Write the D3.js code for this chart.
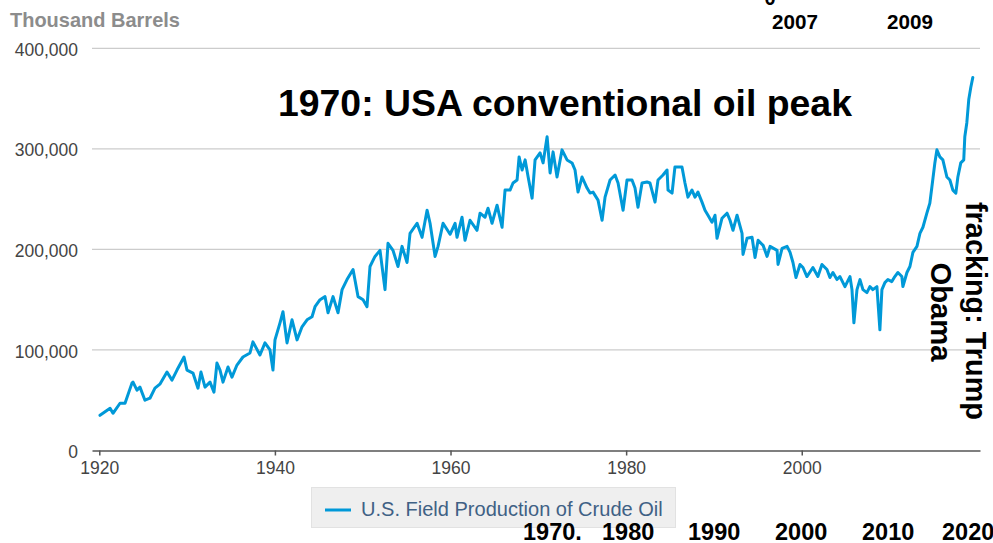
<!DOCTYPE html>
<html><head><meta charset="utf-8">
<script src="https://cdn.jsdelivr.net/npm/d3@7"></script>
<style>html,body{margin:0;padding:0;background:#fff;overflow:hidden}svg{display:block}</style>
</head><body>
<script>
// ---- data (thousand barrels per month, U.S. field production of crude oil) ----
const years = [1920.08,1921.23,1921.56,1922.36,1922.93,1923.72,1923.84,1924.29,1924.63,1925.2,1925.77,1926.34,1926.9,1927.71,1928.28,1928.85,1929.65,1929.99,1930.67,1931.24,1931.58,1932.04,1932.61,1933.06,1933.4,1933.75,1934.09,1934.66,1935.11,1935.68,1936.36,1937.16,1937.5,1938.3,1938.87,1939.44,1939.78,1940.01,1940.58,1940.92,1941.38,1941.95,1942.52,1943.09,1943.66,1944.23,1944.57,1945.14,1945.71,1946.05,1946.62,1947.19,1947.65,1948.21,1948.9,1949.47,1950.04,1950.49,1950.83,1951.4,1951.97,1952.54,1952.88,1953.45,1954.02,1954.48,1955.05,1955.39,1956.19,1956.76,1957.33,1957.67,1958.24,1958.58,1959.15,1959.95,1960.52,1960.74,1961.31,1961.65,1962.22,1963.02,1963.36,1963.93,1964.27,1964.73,1965.3,1965.87,1966.21,1966.78,1967.12,1967.58,1967.81,1968.15,1968.5,1968.84,1969.29,1969.63,1970.2,1970.54,1971.0,1971.34,1971.68,1972.13,1972.7,1973.27,1973.84,1974.18,1974.52,1974.98,1975.55,1975.89,1976.23,1976.8,1977.26,1977.6,1978.17,1978.74,1979.08,1979.65,1980.1,1980.67,1981.01,1981.35,1981.81,1982.38,1982.72,1983.29,1983.63,1984.2,1984.66,1984.77,1985.23,1985.56,1985.9,1986.36,1986.7,1987.04,1987.5,1987.84,1988.18,1988.64,1988.98,1989.32,1989.78,1990.12,1990.35,1990.92,1991.49,1991.83,1992.17,1992.63,1993.2,1993.31,1993.77,1994.34,1994.68,1995.03,1995.6,1996.05,1996.39,1997.19,1997.3,1997.76,1998.33,1998.67,1999.0,1999.34,1999.8,2000.14,2000.59,2001.27,2001.84,2002.3,2002.87,2003.21,2003.55,2004.01,2004.35,2004.92,2005.49,2005.72,2005.94,2006.29,2006.63,2006.97,2007.42,2007.76,2008.1,2008.56,2008.9,2009.13,2009.47,2009.81,2010.26,2010.6,2010.95,2011.4,2011.52,2011.98,2012.32,2012.66,2013.12,2013.46,2013.8,2014.25,2014.59,2014.82,2015.16,2015.39,2015.73,2016.07,2016.53,2016.87,2017.21,2017.55,2017.78,2018.11,2018.45,2018.57,2018.8,2019.02,2019.25,2019.48];
const production = [35000,42000,37000,47000,47000,67000,68000,60000,63000,50000,52000,62000,66000,78000,70000,80000,93000,80000,77000,62000,78000,63000,68000,58000,87000,80000,68000,83000,73000,85000,93000,97000,108000,95000,107000,100000,80000,110000,127000,138000,107000,130000,110000,123000,130000,133000,143000,150000,153000,137000,153000,137000,160000,170000,180000,153000,150000,143000,183000,193000,199000,160000,206000,199000,183000,203000,187000,216000,226000,212000,239000,226000,193000,203000,226000,215000,226000,212000,232000,209000,229000,219000,236000,232000,241000,226000,244000,222000,259000,259000,266000,269000,292000,279000,289000,272000,251000,289000,296000,286000,312000,276000,297000,272000,299000,289000,286000,279000,257000,272000,261000,256000,257000,249000,229000,252000,269000,274000,266000,239000,269000,269000,261000,242000,266000,267000,266000,247000,269000,274000,279000,259000,256000,282000,282000,282000,266000,252000,259000,252000,257000,247000,239000,234000,227000,234000,211000,231000,236000,229000,219000,234000,216000,195000,211000,212000,192000,209000,204000,193000,203000,199000,185000,201000,203000,197000,187000,172000,185000,182000,173000,182000,173000,185000,180000,172000,177000,170000,173000,163000,173000,160000,127000,160000,170000,160000,157000,163000,160000,163000,120000,160000,167000,170000,168000,173000,177000,173000,163000,177000,183000,197000,203000,216000,222000,236000,246000,262000,286000,299000,292000,289000,272000,269000,259000,256000,272000,286000,289000,312000,326000,349000,361000,371000];
const yTicks = [0, 100000, 200000, 300000, 400000];
const xTicks = [1920, 1940, 1960, 1980, 2000];
const seriesName = "U.S. Field Production of Crude Oil";
const unitLabel = "Thousand Barrels";
const headline = "1970: USA conventional oil peak";
const topYears = ["2007", "2009"];
const bottomYears = ["1970.", "1980", "1990", "2000", "2010", "2020"];
const sideNotes = ["fracking: Trump", "Obama"];

// ---- layout ----
const W = 993, H = 543;
const FONT = "'Liberation Sans', Arial, Helvetica, sans-serif";
const svg = d3.select("body").append("svg").attr("width", W).attr("height", H);

const x = d3.scaleLinear().domain([1919.17, 2020.3]).range([92, 980]);
const y = d3.scaleLinear().domain([0, 400000]).range([450.5, 48.3]);

function fit(sel, target) {
  const w = sel.node().getComputedTextLength();
  const fs = parseFloat(sel.attr("font-size"));
  sel.attr("font-size", (fs * target / w).toFixed(2));
  return sel;
}

// gridlines + y labels
const gy = svg.append("g");
gy.selectAll("line").data(yTicks.filter(d => d > 0)).join("line")
  .attr("x1", x.range()[0]).attr("x2", x.range()[1])
  .attr("y1", d => y(d)).attr("y2", d => y(d))
  .attr("stroke", "#cccccc").attr("stroke-width", 1.2);
gy.selectAll("text").data(yTicks).join("text")
  .attr("x", 78).attr("y", d => y(d) + 1.5).attr("dy", "0.35em")
  .attr("text-anchor", "end").attr("font-family", FONT).attr("font-size", 17.5)
  .attr("fill", "#444").text(d => d3.format(",")(d));

// x axis
const xAxis = d3.axisBottom(x).tickValues(xTicks).tickFormat(d3.format("d")).tickSize(5).tickSizeOuter(0);
const gx = svg.append("g").attr("transform", `translate(0,${y(0)})`).call(xAxis);
gx.select(".domain").attr("stroke", "#555").attr("stroke-width", 1.5);
gx.selectAll(".tick line").attr("stroke", "#555").attr("stroke-width", 1.5);
gx.selectAll(".tick text").attr("font-family", FONT).attr("font-size", 17.5).attr("fill", "#444").attr("dy", "0.9em");

// series line
const pts = years.map((yr, i) => [yr, production[i]]);
svg.append("path").datum(pts)
  .attr("fill", "none").attr("stroke", "#0099d8").attr("stroke-width", 3)
  .attr("stroke-linejoin", "round").attr("stroke-linecap", "round")
  .attr("d", d3.line().x(d => x(d[0])).y(d => y(d[1])));

// unit label
fit(svg.append("text").attr("x", 10).attr("y", 27).attr("font-family", FONT)
  .attr("font-weight", "bold").attr("font-size", 20).attr("fill", "#8c8c8c").text(unitLabel), 170);

// legend
const lg = svg.append("g");
lg.append("rect").attr("x", 311.5).attr("y", 487.5).attr("width", 364).attr("height", 40)
  .attr("fill", "#efefef").attr("stroke", "#e2e2e2");
lg.append("line").attr("x1", 325).attr("x2", 351).attr("y1", 510).attr("y2", 510)
  .attr("stroke", "#0099d8").attr("stroke-width", 3);
fit(lg.append("text").attr("x", 361).attr("y", 516).attr("font-family", FONT)
  .attr("font-size", 17).attr("fill", "#3f6185").text(seriesName), 302);

// headline annotation
fit(svg.append("text").attr("x", 278).attr("y", 116).attr("font-family", FONT)
  .attr("font-weight", "bold").attr("font-size", 36).attr("fill", "#000").text(headline), 574);

// top stray labels
svg.append("text").attr("x", 770).attr("y", 5).attr("text-anchor", "middle").attr("font-family", FONT)
  .attr("font-weight", "bold").attr("font-size", 20).attr("fill", "#000").text("0");
[772, 887].forEach((px, i) => {
  fit(svg.append("text").attr("x", px).attr("y", 29).attr("font-family", FONT)
    .attr("font-weight", "bold").attr("font-size", 20).attr("fill", "#000").text(topYears[i]), 46);
});

// bottom stray labels
[523, 602, 688, 775, 862, 942].forEach((px, i) => {
  svg.append("text").attr("x", px).attr("y", 540).attr("font-family", FONT)
    .attr("font-weight", "bold").attr("font-size", 23.5).attr("fill", "#000").text(bottomYears[i]);
});

// rotated side notes
const s1 = svg.append("text").attr("transform", "translate(966,311) rotate(90)")
  .attr("text-anchor", "middle").attr("font-family", FONT).attr("font-weight", "bold")
  .attr("font-size", 27).attr("fill", "#000").text(sideNotes[0]);
fit(s1, 218);
const s2 = svg.append("text").attr("transform", "translate(931,312) rotate(90)")
  .attr("text-anchor", "middle").attr("font-family", FONT).attr("font-weight", "bold")
  .attr("font-size", 27).attr("fill", "#000").text(sideNotes[1]);
fit(s2, 99);
</script>
</body></html>
